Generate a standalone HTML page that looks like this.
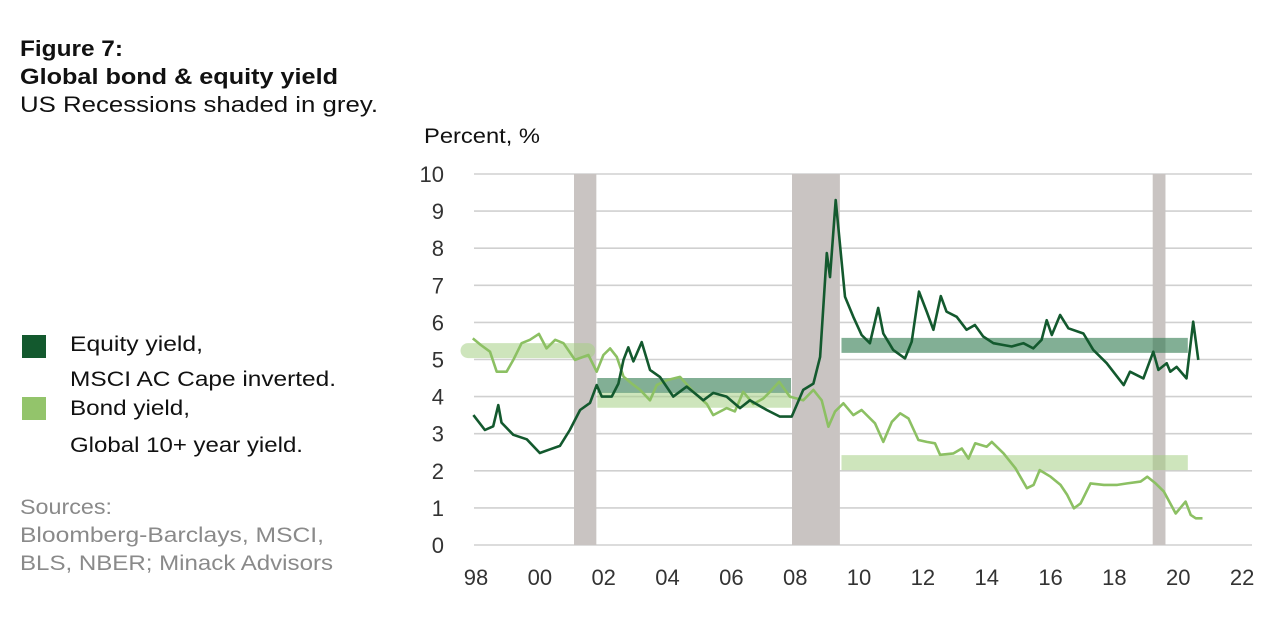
<!DOCTYPE html>
<html><head><meta charset="utf-8"><style>
body{margin:0;background:#fff;width:1280px;height:617px;overflow:hidden;font-family:"Liberation Sans",sans-serif;}
svg text{font-family:"Liberation Sans",sans-serif;}
</style></head><body>
<svg id="chart" width="1280" height="617" xmlns="http://www.w3.org/2000/svg">
<g>
<text x="20" y="56" font-size="22" font-weight="bold" fill="#111" textLength="103" lengthAdjust="spacingAndGlyphs">Figure 7:</text>
<text x="20" y="84" font-size="22" font-weight="bold" fill="#111" textLength="318" lengthAdjust="spacingAndGlyphs">Global bond &amp; equity yield</text>
<text x="20" y="112" font-size="22" fill="#111" textLength="358" lengthAdjust="spacingAndGlyphs">US Recessions shaded in grey.</text>
</g>
<text x="424" y="143" font-size="21" fill="#111" textLength="116" lengthAdjust="spacingAndGlyphs">Percent, %</text>
<g>
<rect x="22" y="335" width="24" height="23" fill="#13592e"/>
<text x="70" y="351" font-size="21" fill="#111" textLength="133" lengthAdjust="spacingAndGlyphs">Equity yield,</text>
<text x="70" y="386" font-size="21" fill="#111" textLength="266" lengthAdjust="spacingAndGlyphs">MSCI AC Cape inverted.</text>
<rect x="22" y="397" width="24" height="23" fill="#93c46b"/>
<text x="70" y="415" font-size="21" fill="#111" textLength="120" lengthAdjust="spacingAndGlyphs">Bond yield,</text>
<text x="70" y="452" font-size="21" fill="#111" textLength="233" lengthAdjust="spacingAndGlyphs">Global 10+ year yield.</text>
</g>
<g fill="#8a8a8a" font-size="21">
<text x="20" y="514" textLength="92" lengthAdjust="spacingAndGlyphs">Sources:</text>
<text x="20" y="542" textLength="304" lengthAdjust="spacingAndGlyphs">Bloomberg-Barclays, MSCI,</text>
<text x="20" y="570" textLength="313" lengthAdjust="spacingAndGlyphs">BLS, NBER; Minack Advisors</text>
</g>
<g id="plot"></g>
</svg>
<script>
const yTicks=[0,1,2,3,4,5,6,7,8,9,10];
const xTickYears=[1998,2000,2002,2004,2006,2008,2010,2012,2014,2016,2018,2020,2022];
const xTickLabels=["98","00","02","04","06","08","10","12","14","16","18","20","22"];
const recessionStarts=[2001.07,2007.9,2019.2];
const recessionEnds=[2001.77,2009.4,2019.6];
const equityYears=[1997.92,1998.28,1998.54,1998.70,1998.80,1999.17,1999.59,2000.00,2000.32,2000.63,2000.94,2001.26,2001.57,2001.78,2001.94,2002.25,2002.46,2002.62,2002.77,2002.93,2003.19,2003.45,2003.76,2004.18,2004.60,2005.12,2005.43,2005.85,2006.27,2006.58,2007.11,2007.52,2007.89,2008.25,2008.57,2008.78,2008.99,2009.09,2009.27,2009.56,2009.82,2010.08,2010.34,2010.60,2010.76,2011.07,2011.44,2011.65,2011.88,2012.12,2012.33,2012.56,2012.74,2013.06,2013.37,2013.63,2013.89,2014.21,2014.52,2014.78,2015.15,2015.46,2015.72,2015.88,2016.04,2016.30,2016.56,2017.03,2017.34,2017.76,2018.29,2018.49,2018.91,2019.22,2019.38,2019.64,2019.75,2019.95,2020.26,2020.47,2020.63];
const equityValues=[3.5,3.1,3.2,3.77,3.3,2.97,2.85,2.48,2.58,2.67,3.1,3.64,3.83,4.31,4.0,4.0,4.35,4.99,5.33,4.95,5.47,4.72,4.53,4.0,4.27,3.9,4.1,4.0,3.69,3.9,3.64,3.46,3.46,4.18,4.35,5.07,7.87,7.22,9.3,6.69,6.15,5.66,5.44,6.39,5.7,5.26,5.03,5.48,6.83,6.29,5.8,6.71,6.29,6.15,5.8,5.93,5.62,5.44,5.39,5.35,5.44,5.3,5.53,6.06,5.66,6.2,5.84,5.7,5.26,4.9,4.31,4.67,4.49,5.21,4.72,4.9,4.67,4.8,4.49,6.02,4.99];
const bondYears=[1997.9,1998.15,1998.44,1998.65,1998.96,1999.17,1999.43,1999.69,1999.97,2000.21,2000.48,2000.74,2001.1,2001.52,2001.78,2001.99,2002.2,2002.41,2002.62,2002.88,2003.14,2003.45,2003.66,2003.97,2004.39,2004.81,2005.23,2005.43,2005.85,2006.11,2006.37,2006.69,2007.0,2007.21,2007.5,2007.83,2008.25,2008.57,2008.83,2009.04,2009.25,2009.51,2009.82,2010.08,2010.5,2010.76,2011.03,2011.29,2011.55,2011.86,2012.12,2012.38,2012.54,2012.96,2013.22,2013.43,2013.64,2014.0,2014.16,2014.53,2014.9,2015.26,2015.47,2015.66,2016.0,2016.31,2016.52,2016.73,2016.94,2017.25,2017.67,2018.09,2018.4,2018.82,2019.03,2019.29,2019.55,2019.92,2020.23,2020.39,2020.55,2020.76];
const bondValues=[5.57,5.39,5.21,4.67,4.67,4.99,5.44,5.53,5.69,5.3,5.53,5.44,4.99,5.12,4.67,5.12,5.3,5.07,4.54,4.35,4.18,3.9,4.31,4.44,4.53,4.13,3.8,3.5,3.69,3.6,4.13,3.8,3.95,4.13,4.4,4.0,3.9,4.18,3.9,3.19,3.6,3.82,3.5,3.64,3.28,2.78,3.32,3.55,3.41,2.83,2.78,2.74,2.43,2.47,2.6,2.33,2.74,2.65,2.78,2.47,2.07,1.53,1.62,2.02,1.84,1.62,1.35,0.99,1.12,1.66,1.62,1.62,1.66,1.71,1.84,1.66,1.44,0.85,1.17,0.81,0.72,0.72];
const avgBandStarts=[1997.75,2001.8,2001.8,2009.45,2009.45];
const avgBandEnds=[2001.5,2007.87,2007.87,2020.3,2020.3];
const avgBandValues=[5.24,4.3,3.9,5.38,2.22];
const avgBandSeries=["bond","equity","bond","equity","bond"];

const NS="http://www.w3.org/2000/svg";
const X=yr=>476+(yr-1998)*31.92;
const Y=v=>545-v*37.1;
const plot=document.getElementById('plot');
function mk(tag,attrs){const e=document.createElementNS(NS,tag);for(const k in attrs)e.setAttribute(k,attrs[k]);plot.appendChild(e);return e;}

yTicks.forEach(t=>{
  const l=mk('line',{x1:X(1998)-2,x2:1252,y1:Y(t),y2:Y(t),stroke:'#d0d0d0','stroke-width':1.6});
  
  
  const tx=mk('text',{x:444,y:Y(t)+8,'font-size':22,fill:'#333','text-anchor':'end'});
  tx.textContent=t;
  
  
});
xTickYears.forEach((yr,i)=>{
  const tx=mk('text',{x:X(yr),y:585,'font-size':22,fill:'#333','text-anchor':'middle'});
  tx.textContent=xTickLabels[i];
  
  
});
recessionStarts.forEach((s,i)=>{
  const r=mk('rect',{x:X(s),y:Y(10),width:X(recessionEnds[i])-X(s),height:Y(0)-Y(10),fill:'#c9c4c2'});
  
  
});
avgBandStarts.forEach((s,i)=>{
  const eq=avgBandSeries[i]==='equity';
  const l=mk('line',{x1:X(s),x2:X(avgBandEnds[i]),y1:Y(avgBandValues[i]),y2:Y(avgBandValues[i]),stroke:eq?'#2e7a4e':'#a6cf85','stroke-opacity':eq?0.6:0.55,'stroke-width':15,'stroke-linecap':i===0?'round':'butt'});
  
  
});
function line(xs,vs,color,name){
  const d=xs.map((x,i)=>(i?'L':'M')+X(x).toFixed(1)+' '+Y(vs[i]).toFixed(1)).join(' ');
  const p=mk('path',{d:d,fill:'none',stroke:color,'stroke-width':2.6,'stroke-linejoin':'round'});
  
  
}
line(bondYears,bondValues,'#8cc063','bond-yield-line');
line(equityYears,equityValues,'#13592e','equity-yield-line');
</script>
</body></html>
